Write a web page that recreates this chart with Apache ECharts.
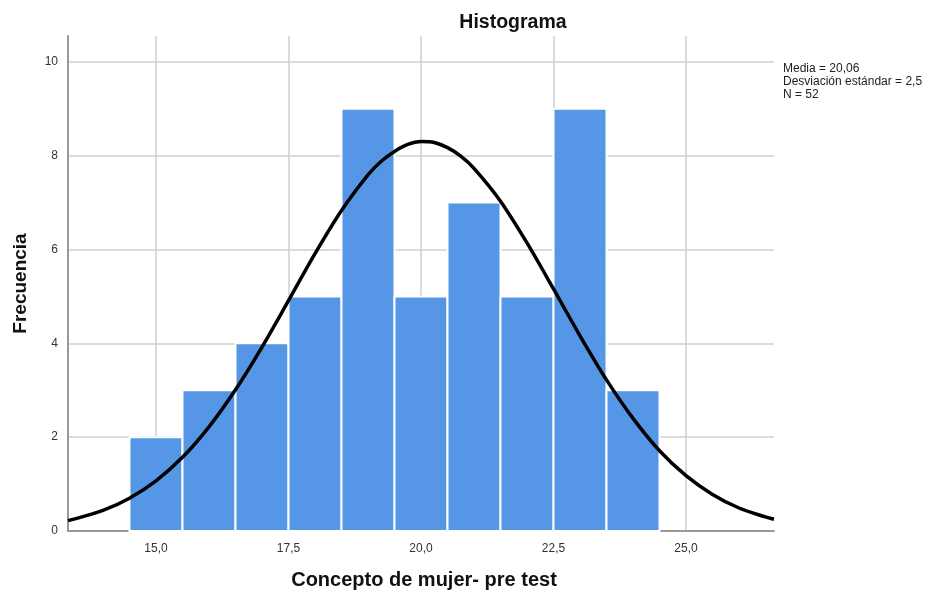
<!DOCTYPE html>
<html><head><meta charset="utf-8">
<script src="https://cdn.jsdelivr.net/npm/echarts@6/dist/echarts.min.js"></script>
<style>html,body{margin:0;padding:0;background:#fff}#c{width:940px;height:595px}</style>
</head><body><div id="c"></div>
<script>
const binStart = [14.5,15.5,16.5,17.5,18.5,19.5,20.5,21.5,22.5,23.5];
const binEnd   = [15.5,16.5,17.5,18.5,19.5,20.5,21.5,22.5,23.5,24.5];
const counts   = [2,3,4,5,9,5,7,5,9,3];
const curveX = [13.34,14,14.5,15,15.5,16,16.5,17,17.5,18,18.5,19,19.25,19.5,19.75,20,20.25,20.5,20.75,21,21.5,22,22.5,23,23.5,24,24.5,25,25.5,26,26.5,26.66];
const curveY = [0.22,0.44,0.70,1.07,1.57,2.22,3.01,3.92,4.91,5.91,6.83,7.59,7.88,8.09,8.24,8.30,8.28,8.17,7.99,7.73,7.03,6.14,5.16,4.16,3.22,2.40,1.71,1.18,0.78,0.49,0.30,0.25];
const xTicks = [15,17.5,20,22.5,25];
const yTicks = [0,2,4,6,8,10];
const statsText = ['Media = 20,06','Desviación estándar = 2,5','N = 52'];

const font = 'Liberation Sans, Arial, sans-serif';
const chart = echarts.init(document.getElementById('c'));
chart.setOption({
  animation:false,
  backgroundColor:'#fff',
  title:{text:'Histograma',left:508,top:8,textAlign:'center',
    textStyle:{fontFamily:font,fontSize:19.5,fontWeight:'bold',color:'#111'}},
  grid:{left:68,top:36,right:166,bottom:64,containLabel:false,outerBoundsMode:'none'},
  xAxis:{type:'value',min:13.34,max:26.66,
    name:'Concepto de mujer- pre test',nameLocation:'middle',nameGap:39,
    nameTextStyle:{fontFamily:font,fontSize:20,fontWeight:'bold',color:'#111',padding:[0,0,0,6]},
    axisLine:{show:true,lineStyle:{color:'#999',width:2}},
    axisTick:{show:false,customValues:xTicks},
    axisLabel:{customValues:xTicks,fontFamily:font,fontSize:12,color:'#333',margin:12,
      formatter:v=>v.toFixed(1).replace('.',',')},
    splitLine:{show:true,lineStyle:{color:'#cfcfcf',width:1.5}}},
  yAxis:{type:'value',min:0,max:10.55,
    name:'Frecuencia',nameLocation:'middle',nameGap:38,nameRotate:90,
    nameTextStyle:{fontFamily:font,fontSize:19,fontWeight:'bold',color:'#111'},
    axisLine:{show:true,lineStyle:{color:'#999',width:2}},
    axisTick:{show:false,customValues:yTicks},
    axisLabel:{customValues:yTicks,fontFamily:font,fontSize:12,color:'#333',margin:10},
    splitLine:{show:true,lineStyle:{color:'#cfcfcf',width:1.5}}},
  graphic:[{type:'text',left:783,top:62,style:{text:statsText.join('\n'),
    font:'12px '+font,fill:'#222',lineHeight:13}}],
  series:[
    {type:'custom',z:2,
     data:counts.map((c,i)=>[binStart[i],binEnd[i],c]),
     renderItem:(params,api)=>{
       const p0=api.coord([api.value(0),0]);
       const p1=api.coord([api.value(1),api.value(2)]);
       return {type:'rect',shape:{x:p0[0],y:p1[1],width:p1[0]-p0[0],height:p0[1]-p1[1]},
         style:{fill:'#5596e6',stroke:'#ffffff',lineWidth:2}};
     }},
    {type:'line',z:3,smooth:0.3,symbol:'none',
     data:curveX.map((x,i)=>[x,curveY[i]]),
     lineStyle:{color:'#000',width:3.5}}
  ]
});
</script></body></html>
